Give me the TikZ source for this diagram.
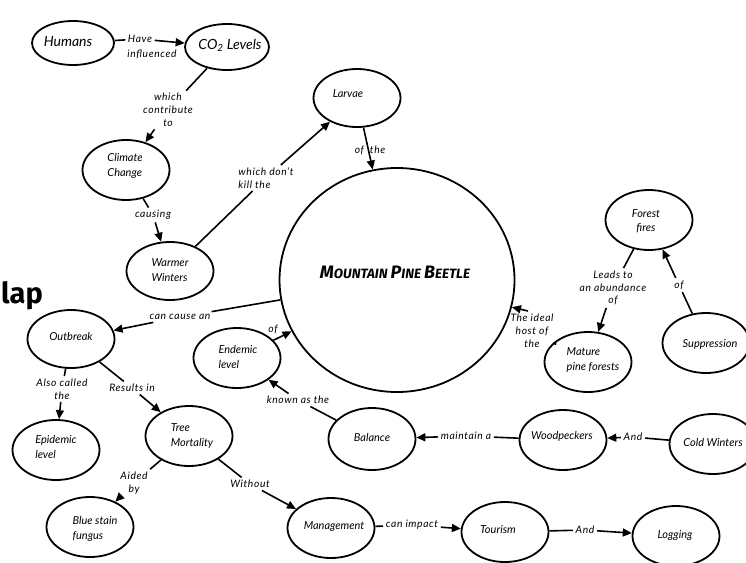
\documentclass[tikz,border=0pt]{standalone}
\usepackage{fontspec}
\setmainfont{Lato}
\newfontfamily\titlefont{Fira Sans}
\usetikzlibrary{shapes.geometric,arrows.meta}
\newcommand\mpbcap[1]{{\fontsize{18}{18}\selectfont #1}}
\begin{document}
\begin{tikzpicture}[x=1pt,y=-1pt,
  bub/.style={draw, ellipse, line width=1.8pt, minimum width=87pt, minimum height=60pt, inner sep=0pt},
  txt/.style={font=\fontsize{11}{14.5}\selectfont\itshape, align=left, inner sep=0pt},
  bigtxt/.style={font=\fontsize{14}{16}\selectfont\itshape, inner sep=0pt},
  lab/.style={font=\fontsize{10.3}{12.8}\selectfont\itshape\addfontfeature{LetterSpace=6}, align=center, inner sep=2.5pt},
  ln/.style={line width=1.6pt},
  arr/.style={line width=1.6pt, -{Triangle[length=9pt,width=8pt]}},
]
\useasboundingbox (0,0) rectangle (746,562);

% title fragment
\node[font=\titlefont\bfseries\fontsize{29}{29}\selectfont, anchor=base west, inner sep=0pt] (lapT) at (1,303) {lap};

% bubbles
\node[bub, minimum width=82pt, minimum height=44pt] (humans) at (73,43) {};
\node[bub, minimum width=84pt, minimum height=46pt] (co2) at (227,47) {};
\node[bub] (climate) at (126,170) {};
\node[bub, minimum height=58pt] (warmer) at (170,271) {};
\node[bub, minimum height=58pt] (larvae) at (357,98) {};
\node[draw, ellipse, line width=1.8pt, minimum width=235pt, minimum height=224pt, inner sep=0pt] (mpb) at (397,280) {};
\node[bub] (forest) at (649,220) {};
\node[bub] (mature) at (588,362) {};
\node[bub] (suppr) at (706,343) {};
\node[bub, minimum height=58pt] (outbreak) at (71,339) {};
\node[bub] (endemic) at (237,358) {};
\node[bub] (epidemic) at (56,450) {};
\node[bub] (treemort) at (189,436) {};
\node[bub] (bluestain) at (90,527) {};
\node[bub, minimum height=62pt] (balance) at (372,439) {};
\node[bub] (woodp) at (563,440) {};
\node[bub] (coldw) at (713,444) {};
\node[bub] (manage) at (331,528) {};
\node[bub] (tourism) at (505,532) {};
\node[bub] (logging) at (676,536) {};

% bubble texts
\node[bigtxt] (tHumans) at (68,42) {Humans};
\node[bigtxt] (tCO2) at (230,45) {CO\textsubscript{2} Levels};
\node[txt] (tClimate) at (125,166) {Climate\\Change};
\node[txt] (tWarmer) at (170,270) {Warmer\\Winters};
\node[txt] (tLarvae) at (348,94) {Larvae};
\node[font=\titlefont\bfseries\itshape\fontsize{13.5}{14}\selectfont, inner sep=0pt] (tMPB) at (395,272)
  {\mpbcap{M}OUNTAIN \mpbcap{P}INE \mpbcap{B}EETLE};
\node[txt, align=center] (tForest) at (646,221) {Forest\\fires};
\node[txt] (tMature) at (593,360) {Mature\\pine forests};
\node[txt] (tSuppr) at (710,344) {Suppression};
\node[txt] (tOutbreak) at (71,336) {Outbreak};
\node[txt] (tEndemic) at (238,357) {Endemic\\level};
\node[txt] (tEpidemic) at (56,447) {Epidemic\\level};
\node[txt] (tTree) at (192,436) {Tree\\Mortality};
\node[txt] (tBlue) at (95,529) {Blue stain\\fungus};
\node[txt] (tBalance) at (372,437) {Balance};
\node[txt] (tWood) at (562,436) {Woodpeckers};
\node[txt] (tCold) at (713,442) {Cold Winters};
\node[txt] (tManage) at (334,527) {Management};
\node[txt] (tTourism) at (498,530) {Tourism};
\node[txt] (tLogging) at (675,535) {Logging};

% edge labels
\node[lab] (l1) at (140,39) {Have};
\node[lab] (l1b) at (152,54) {influenced};
\node[lab] (l2) at (168,110) {which\\contribute\\to};
\node[lab] (l3) at (153,215) {causing};
\node[lab, align=left] (l4) at (266,178) {which don't\\kill the};
\node[lab, inner sep=0pt] (l5) at (370,150) {of\ \ the};
\node[lab] (l6) at (180,317) {can cause an};
\node[lab, inner sep=0pt] (l7) at (273,329) {of};
\node[lab] (l8) at (298,400) {known as the};
\node[lab] (l9) at (466,436) {maintain a};
\node[lab] (l10) at (633,437) {And};
\node[lab] (l11) at (532,331) {The ideal\\host of\\the};
\node[lab] (l12) at (613,288) {Leads to\\an abundance\\of};
\node[lab] (l13) at (679,285) {of};
\node[lab] (l14) at (62,389) {Also called\\the};
\node[lab] (l15) at (132,388) {Results in};
\node[lab] (l16) at (134,483) {Aided\\by};
\node[lab] (l17) at (250,484) {Without};
\node[lab] (l18) at (412,525) {can impact};
\node[lab] (l19) at (585,530) {And};
\coordinate (a11) at (528,311);

% connectors
\draw[ln] (humans) -- (l1);  \draw[arr] (l1) -- (co2);
\draw[ln] (co2) -- (l2);     \draw[arr] (l2) -- (climate);
\draw[ln] (climate) -- (l3); \draw[arr] (l3) -- (warmer);
\draw[ln] (warmer) -- (l4);  \draw[arr] (l4) -- (larvae);
\draw[arr] (larvae) -- (mpb);
\draw[ln] (mpb) -- (l6);     \draw[arr] (l6) -- (outbreak);
\draw[arr] (endemic) -- (mpb);
\draw[ln] (balance) -- (l8); \draw[arr] (l8) -- (endemic);
\draw[ln] (woodp) -- (l9);   \draw[arr] (l9) -- (balance);
\draw[ln] (coldw) -- (l10);  \draw[arr] (l10) -- (woodp);
\draw[ln] (mature) -- (l11); \draw[arr] (a11) -- (mpb);
\draw[ln] (forest) -- (l12); \draw[arr] (l12) -- (mature);
\draw[ln] (suppr) -- (l13);  \draw[arr] (l13) -- (forest);
\draw[ln] (outbreak) -- (l14); \draw[arr] (l14) -- (epidemic);
\draw[ln] (outbreak) -- (l15); \draw[arr] (l15) -- (treemort);
\draw[ln] (treemort) -- (l16); \draw[arr] (l16) -- (bluestain);
\draw[ln] (treemort) -- (l17); \draw[arr] (l17) -- (manage);
\draw[ln] (manage) -- (l18);   \draw[arr] (l18) -- (tourism);
\draw[ln] (tourism) -- (l19);  \draw[arr] (l19) -- (logging);
\end{tikzpicture}
\end{document}
